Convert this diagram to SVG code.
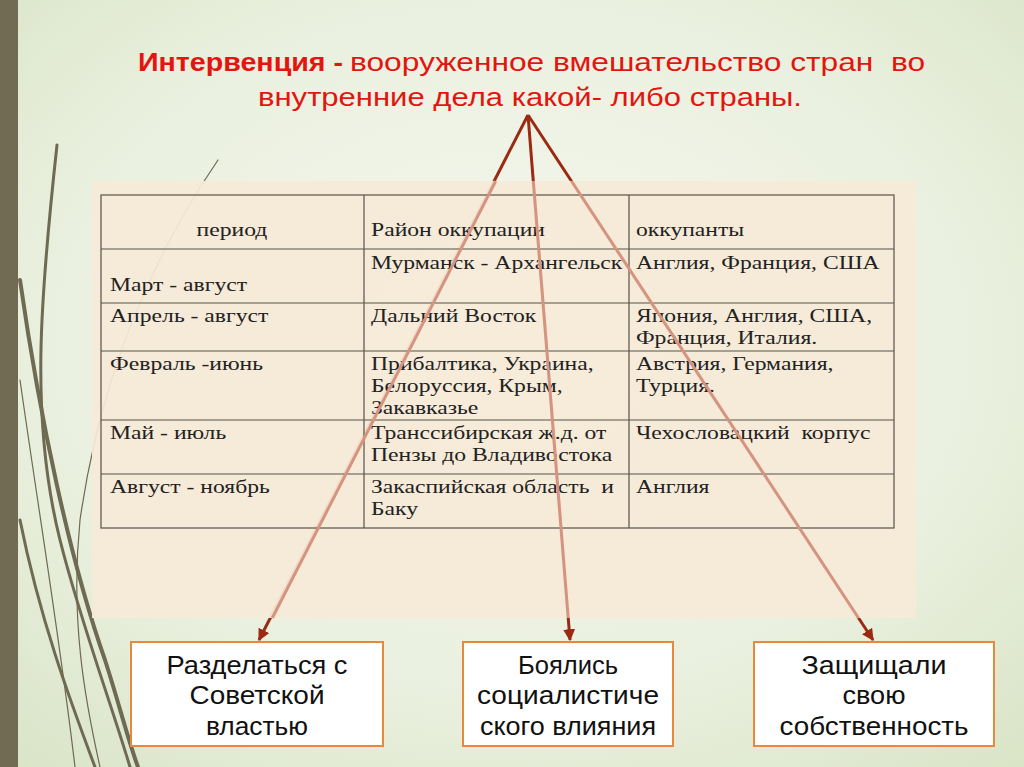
<svg xmlns="http://www.w3.org/2000/svg" width="1024" height="767" viewBox="0 0 1024 767">
<defs>
<radialGradient id="bg" cx="0.5" cy="0.45" r="0.75">
<stop offset="0" stop-color="#f6f8f0"/>
<stop offset="0.6" stop-color="#eaf0df"/>
<stop offset="1" stop-color="#d9e4c6"/>
</radialGradient>
<marker id="ah" viewBox="0 0 10 10" refX="9" refY="5" markerWidth="4" markerHeight="4" orient="auto" markerUnits="strokeWidth">
<path d="M0,0 L10,5 L0,10 z" fill="#9b2a12"/>
</marker>
<style>
.t{font-family:"Liberation Serif","Times New Roman",serif;font-size:19px;fill:#222}
.g{stroke:#55544a;stroke-width:1.2;fill:none}
.box rect{fill:#fff;stroke:#e8883a;stroke-width:2}
.box text{font-family:"Liberation Sans",Arial,sans-serif;font-size:25px;fill:#111;text-anchor:middle}
.ttl{font-family:"Liberation Sans",Arial,sans-serif;font-size:26px;fill:#e3150f}
.dark{stroke:#9b2a12;stroke-width:3;fill:none}
.lite{stroke:#d59480;stroke-width:3;fill:none}
.deco{fill:none;stroke:#6f6a52;stroke-linecap:round}
</style>
</defs>
<rect width="1024" height="767" fill="url(#bg)"/>
<rect x="0" y="0" width="18" height="767" fill="#716b53"/>
<g id="decor">
<path class="deco" stroke-width="3" d="M57,145 C40,300 30,420 60,540 C80,620 110,700 130,767"/>
<path class="deco" stroke-width="4" d="M20,280 C40,420 70,560 105,660 C118,700 128,740 138,767"/>
<path class="deco" stroke-width="3" d="M20,520 C40,620 70,700 95,767"/>
<path class="deco" stroke-width="1.2" stroke="#a8a590" d="M218,160 C150,260 100,380 80,520 C70,620 85,700 100,767"/>
<path class="deco" stroke-width="1.2" stroke="#b5b29c" d="M20,380 C40,520 60,640 75,767"/>
</g>
<g id="connectors">
<line class="dark" x1="528" y1="115" x2="259" y2="640" marker-end="url(#ah)"/>
<line class="dark" x1="528" y1="115" x2="570" y2="640" marker-end="url(#ah)"/>
<line class="dark" x1="528" y1="115" x2="873" y2="640" marker-end="url(#ah)"/>
</g>
<rect id="panel" x="92" y="181" width="824" height="437" fill="#f6e9d7" fill-opacity="0.93"/>
<g id="table">
<rect x="101" y="195" width="793" height="333" fill="none" class="g"/>
<path class="g" d="M364,195V528M629,195V528M101,249H894M101,303H894M101,351H894M101,420H894M101,474H894"/>
<g transform="scale(1.245,1)">
<text class="t" x="186.3" y="236" text-anchor="middle">период</text>
<text class="t" x="298" y="236">Район оккупации</text>
<text class="t" x="510.8" y="236">оккупанты</text>
<text class="t" x="88.4" y="291">Март - август</text>
<text class="t" x="298" y="269">Мурманск - Архангельск</text>
<text class="t" x="510.8" y="269">Англия, Франция, США</text>
<text class="t" x="88.4" y="322">Апрель - август</text>
<text class="t" x="298" y="322">Дальний Восток</text>
<text class="t" x="510.8" y="322">Япония, Англия, США,</text>
<text class="t" x="510.8" y="344">Франция, Италия.</text>
<text class="t" x="88.4" y="370">Февраль -июнь</text>
<text class="t" x="298" y="370">Прибалтика, Украина,</text>
<text class="t" x="298" y="392">Белоруссия, Крым,</text>
<text class="t" x="298" y="414">Закавказье</text>
<text class="t" x="510.8" y="370">Австрия, Германия,</text>
<text class="t" x="510.8" y="392">Турция.</text>
<text class="t" x="88.4" y="439">Май - июль</text>
<text class="t" x="298" y="439">Транссибирская ж.д. от</text>
<text class="t" x="298" y="461">Пензы до Владивостока</text>
<text class="t" x="510.8" y="439" xml:space="preserve">Чехословацкий  корпус</text>
<text class="t" x="88.4" y="493">Август - ноябрь</text>
<text class="t" x="298" y="493" xml:space="preserve">Закаспийская область  и</text>
<text class="t" x="298" y="515">Баку</text>
<text class="t" x="510.8" y="493">Англия</text>
</g>
</g>
<g id="connectors-faded">
<line class="lite" x1="495.7" y1="181" x2="272.3" y2="618"/>
<line class="lite" x1="533.3" y1="181" x2="568.2" y2="618"/>
<line class="lite" x1="571.4" y1="181" x2="858.5" y2="618"/>
</g>
<g id="title">
<text class="ttl" x="138" y="71" font-weight="bold" textLength="205" lengthAdjust="spacingAndGlyphs">Интервенция -</text>
<text class="ttl" x="350" y="71" textLength="575" lengthAdjust="spacingAndGlyphs" xml:space="preserve">вооруженное вмешательство стран  во</text>
<text class="ttl" x="258" y="106" textLength="544" lengthAdjust="spacingAndGlyphs">внутренние дела какой- либо страны.</text>
</g>
<g id="box1" class="box">
<rect x="131" y="642" width="252" height="104"/>
<text x="257" y="674" textLength="181" lengthAdjust="spacingAndGlyphs">Разделаться с</text>
<text x="257" y="704" textLength="135" lengthAdjust="spacingAndGlyphs">Советской</text>
<text x="257" y="735" textLength="102" lengthAdjust="spacingAndGlyphs">властью</text>
</g>
<g id="box2" class="box">
<rect x="463" y="642" width="210" height="104"/>
<text x="568" y="674" textLength="100" lengthAdjust="spacingAndGlyphs">Боялись</text>
<text x="568" y="704" textLength="182" lengthAdjust="spacingAndGlyphs">социалистиче</text>
<text x="568" y="735" textLength="176" lengthAdjust="spacingAndGlyphs">ского влияния</text>
</g>
<g id="box3" class="box">
<rect x="754" y="642" width="240" height="104"/>
<text x="874" y="674" textLength="145" lengthAdjust="spacingAndGlyphs">Защищали</text>
<text x="874" y="704" textLength="63" lengthAdjust="spacingAndGlyphs">свою</text>
<text x="874" y="735" textLength="189" lengthAdjust="spacingAndGlyphs">собственность</text>
</g>
</svg>
